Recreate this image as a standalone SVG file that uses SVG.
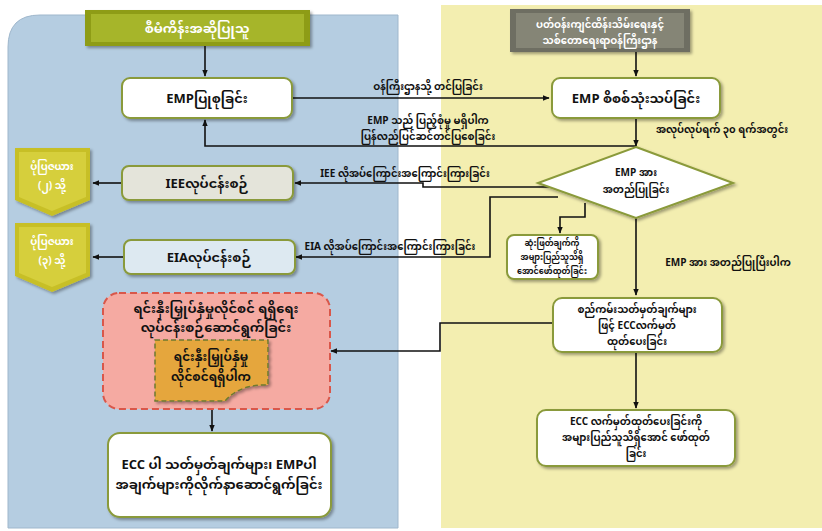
<svg xmlns="http://www.w3.org/2000/svg" width="822" height="531" viewBox="0 0 822 531">
<defs>
<marker id="ah" viewBox="0 0 10 10" refX="9" refY="5" markerWidth="7" markerHeight="7" orient="auto-start-reverse" markerUnits="userSpaceOnUse">
<path d="M0,1 L10,5 L0,9 Z" fill="#111"/>
</marker>
<filter id="sh" x="-10%" y="-10%" width="125%" height="130%">
<feDropShadow dx="2" dy="2" stdDeviation="1.5" flood-color="#000" flood-opacity="0.35"/>
</filter>
</defs>
<style>
text{font-family:"Noto Sans Myanmar","Padauk","Myanmar Text","Liberation Serif","Noto Sans",serif;fill:#111;text-anchor:middle;}
.box{stroke:#8a9a3a;stroke-width:2;filter:url(#sh);}
.t{font-size:13px;font-weight:bold;}
.s{font-size:10px;font-weight:bold;}
.xs{font-size:8px;font-weight:bold;}
.w{fill:#fff;}
.c{fill:none;stroke:#111;stroke-width:1.6;}
</style>
<rect x="0" y="0" width="822" height="531" fill="#fff"/>
<path d="M40,15 H398 V528 H8 V47 Q8,15 40,15 Z" fill="#b5cde1" stroke="#9fb7cc" stroke-width="1"/>
<path d="M441,5 H822 V528 H441 Z" fill="#f3eeb0"/>

<g id="hdr-left">
<rect x="85" y="10" width="225" height="36" fill="#8e9c16" filter="url(#sh)"/>
<rect x="91" y="14" width="213" height="28" fill="#a6b52a"/>
<text x="197" y="33" class="t w">စီမံကိန်းအဆိုပြုသူ</text>
</g>
<g id="hdr-right">
<rect x="510" y="9" width="180" height="43" fill="#6e6e62" filter="url(#sh)"/>
<rect x="516" y="13" width="168" height="35" fill="#858576"/>
<text x="600" y="28" class="s w">ပတ်ဝန်းကျင်ထိန်းသိမ်းရေးနှင့်</text>
<text x="600" y="44" class="s w">သစ်တောရေးရာဝန်ကြီးဌာန</text>
</g>

<g id="connectors">
<path class="c" d="M205,46 V76" marker-end="url(#ah)"/>
<path class="c" d="M636,52 V76" marker-end="url(#ah)"/>
<path class="c" d="M292,98 H549" marker-end="url(#ah)"/>
<path class="c" d="M636,118 V146" marker-end="url(#ah)"/>
<path class="c" d="M636,146 H205 V120" marker-end="url(#ah)"/>
<path class="c" d="M552,187 H423 V183 H295" marker-end="url(#ah)"/>
<path class="c" d="M122,183 H93" marker-end="url(#ah)"/>
<path class="c" d="M558,197 H490 V257 H296" marker-end="url(#ah)"/>
<path class="c" d="M123,257 H93" marker-end="url(#ah)"/>
<path class="c" d="M585,203 V217 H560 V233" marker-end="url(#ah)"/>
<path class="c" d="M636,218 V295" marker-end="url(#ah)"/>
<path class="c" d="M553,323 H440 V351 H331" marker-end="url(#ah)"/>
<path class="c" d="M636,352 V408" marker-end="url(#ah)"/>
<path class="c" d="M212,409 V431" marker-end="url(#ah)"/>
</g>

<g id="lbl-submit"><text x="428" y="90" class="s">ဝန်ကြီးဌာနသို့ တင်ပြခြင်း</text></g>
<g id="lbl-return">
<text x="428" y="124" class="s">EMP သည် ပြည့်စုံမှု မရှိပါက</text>
<text x="428" y="140" class="s">ပြန်လည်ပြင်ဆင်တင်ပြစေခြင်း</text>
</g>
<g id="lbl-30days"><text x="722" y="133" class="s">အလုပ်လုပ်ရက် ၃၀ ရက်အတွင်း</text></g>
<g id="lbl-iee"><text x="405" y="177" class="s">IEE လိုအပ်ကြောင်းအကြောင်းကြားခြင်း</text></g>
<g id="lbl-eia"><text x="390" y="250" class="s">EIA လိုအပ်ကြောင်းအကြောင်းကြားခြင်း</text></g>
<g id="lbl-approved"><text x="728" y="266" class="s">EMP အား အတည်ပြုပြီးပါက</text></g>

<g id="n-emp-prep">
<rect x="122" y="78" width="170" height="40" rx="8" class="box" fill="#fff"/>
<text x="207" y="103" class="t">EMPပြုစုခြင်း</text>
</g>
<g id="n-emp-review">
<rect x="552" y="78" width="168" height="40" rx="8" class="box" fill="#fff"/>
<text x="636" y="103" class="t">EMP စိစစ်သုံးသပ်ခြင်း</text>
</g>
<g id="n-decision">
<polygon points="636,147 733,183 636,218 538,183" fill="#fff" stroke="#8a9a3a" stroke-width="2" filter="url(#sh)"/>
<text x="636" y="176" class="s">EMP အား</text>
<text x="636" y="193" class="s">အတည်ပြုခြင်း</text>
</g>
<g id="n-iee">
<rect x="122" y="166" width="171" height="34" rx="7" class="box" fill="#e4e4da"/>
<text x="207" y="188" class="t">IEEလုပ်ငန်းစဉ်</text>
</g>
<g id="n-eia">
<rect x="124" y="240" width="171" height="34" rx="7" class="box" fill="#dde9f1"/>
<text x="209" y="262" class="t">EIAလုပ်ငန်းစဉ်</text>
</g>
<g id="n-fig2">
<path d="M15,148 H90 V200 L52,216 L15,200 Z" fill="#c7bf26" filter="url(#sh)"/>
<path d="M19,152 H86 V197 L52,211 L19,197 Z" fill="#d6cf3c"/>
<text x="52" y="170" class="s w">ပုံပြဇယား</text>
<text x="52" y="189" class="s w">(၂) သို့</text>
</g>
<g id="n-fig3">
<path d="M15,223 H90 V276 L52,292 L15,276 Z" fill="#c7bf26" filter="url(#sh)"/>
<path d="M19,227 H86 V273 L52,287 L19,273 Z" fill="#d6cf3c"/>
<text x="52" y="245" class="s w">ပုံပြဇယား</text>
<text x="52" y="264" class="s w">(၃) သို့</text>
</g>
<g id="n-disclose">
<rect x="507" y="235" width="91" height="44" rx="7" class="box" fill="#fff"/>
<text x="552" y="246" class="xs">ဆုံးဖြတ်ချက်ကို</text>
<text x="552" y="260" class="xs">အများပြည်သူသိရှိ</text>
<text x="552" y="274" class="xs">အောင်ဖော်ထုတ်ခြင်း</text>
</g>
<g id="n-ecc">
<rect x="553" y="298" width="169" height="54" rx="9" class="box" fill="#fff"/>
<text x="637" y="313" class="s">စည်ကမ်းသတ်မှတ်ချက်များ</text>
<text x="637" y="329" class="s">ဖြင့် ECCလက်မှတ်</text>
<text x="637" y="345" class="s">ထုတ်ပေးခြင်း</text>
</g>
<g id="n-permit">
<rect x="103" y="293" width="227" height="116" rx="16" fill="#f5aaa2" stroke="#d9574a" stroke-width="2" stroke-dasharray="7,4"/>
<text x="216" y="313" class="t">ရင်းနှီးမြှုပ်နှံမှုလိုင်စင် ရရှိရေး</text>
<text x="216" y="332" class="t">လုပ်ငန်းစဉ်ဆောင်ရွက်ခြင်း</text>
</g>
<g id="n-permit-note">
<path d="M155,340 H268 V385 Q240,384 225,401 L155,401 Z" fill="#e5a63c" stroke="#6e7a30" stroke-width="1.5" stroke-dasharray="5,3" filter="url(#sh)"/>
<text x="211" y="361" class="t" style="font-size:12px">ရင်းနှီးမြှုပ်နှံမှု</text>
<text x="211" y="381" class="t" style="font-size:12px">လိုင်စင်ရရှိပါက</text>
</g>
<g id="n-comply">
<rect x="108" y="433" width="223" height="84" rx="12" class="box" fill="#fff"/>
<text x="219" y="469" class="t">ECC ပါ သတ်မှတ်ချက်များ၊ EMPပါ</text>
<text x="219" y="489" class="t">အချက်များကိုလိုက်နာဆောင်ရွက်ခြင်း</text>
</g>
<g id="n-ecc-disclose">
<rect x="537" y="410" width="198" height="56" rx="9" class="box" fill="#fff"/>
<text x="636" y="425" class="s">ECC လက်မှတ်ထုတ်ပေးခြင်းကို</text>
<text x="636" y="441" class="s">အများပြည်သူသိရှိအောင် ဖော်ထုတ်</text>
<text x="636" y="457" class="s">ခြင်း</text>
</g>
</svg>
